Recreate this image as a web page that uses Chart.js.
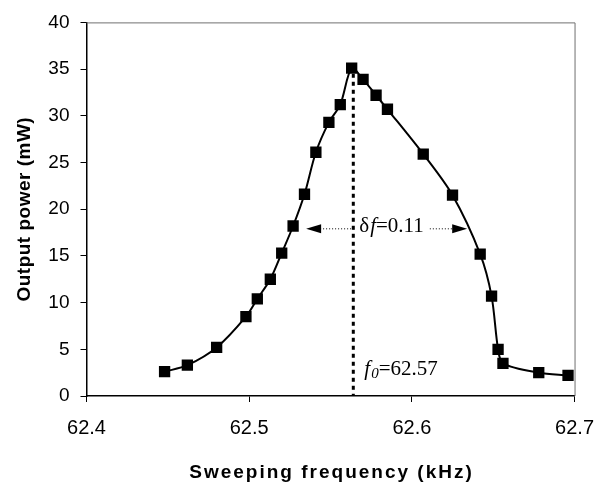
<!DOCTYPE html>
<html>
<head>
<meta charset="utf-8">
<script src="https://cdn.jsdelivr.net/npm/chart.js@4.4.1/dist/chart.umd.min.js"></script>
<style>
  html, body { margin: 0; padding: 0; background: #fff; }
  #chart { display: block; }
</style>
</head>
<body>
<canvas id="chart" width="608" height="487"></canvas>
<script>
// data
const freqKHz = [62.448, 62.462, 62.480, 62.498, 62.505, 62.513, 62.520, 62.527, 62.534, 62.541, 62.549, 62.556,
                 62.563, 62.570, 62.578, 62.585, 62.607, 62.625, 62.642, 62.649, 62.653, 62.656, 62.678, 62.696];
const powerMW = [2.6, 3.3, 5.2, 8.5, 10.4, 12.5, 15.3, 18.2, 21.6, 26.1, 29.3, 31.2,
                 35.1, 33.9, 32.2, 30.7, 25.9, 21.5, 15.2, 10.7, 5.0, 3.5, 2.5, 2.2];
const xTicks = [62.4, 62.5, 62.6, 62.7];
const yTicks = [0, 5, 10, 15, 20, 25, 30, 35, 40];

// annotation values
const f0 = 62.564;
const f0Label = '62.57';
const fwhmY = 17.9;
const fwhmLeft = 62.535;
const fwhmRight = 62.634;
const fwhmLabel = '0.11';

const xTitle = 'Sweeping frequency (kHz)';
const yTitle = 'Output power (mW)';

const points = freqKHz.map((f, i) => ({ x: f, y: powerMW[i] }));

function arrowHead(ctx, tipX, y, dir) {
    ctx.beginPath();
    ctx.moveTo(tipX, y);
    ctx.lineTo(tipX - dir * 15, y - 4.5);
    ctx.lineTo(tipX - dir * 15, y + 4.5);
    ctx.closePath();
    ctx.fill();
}

const annotations = {
    id: 'annotations',
    beforeDatasetsDraw(chart) {
        const ctx = chart.ctx;
        const xs = chart.scales.x, ys = chart.scales.y;
        const x0 = xs.getPixelForValue(f0);

        ctx.save();
        // f0 dotted line
        ctx.strokeStyle = '#000';
        ctx.lineWidth = 3;
        ctx.setLineDash([4, 4]);
        ctx.beginPath();
        ctx.moveTo(x0, ys.getPixelForValue(34.5));
        ctx.lineTo(x0, ys.getPixelForValue(0));
        ctx.stroke();

        // delta f label and arrows
        const ay = ys.getPixelForValue(fwhmY);
        const lx = xs.getPixelForValue(fwhmLeft);
        const rx = xs.getPixelForValue(fwhmRight);
        ctx.font = '21px "Liberation Serif", "Times New Roman", serif';
        const wDelta = ctx.measureText('\u03b4').width;
        ctx.font = 'italic 21px "Liberation Serif", "Times New Roman", serif';
        const wF = ctx.measureText('f').width;
        ctx.font = '21px "Liberation Serif", "Times New Roman", serif';
        const wRest = ctx.measureText('=' + fwhmLabel).width;
        const tx = x0 + 6;
        const ty = ay + 3;
        ctx.fillStyle = '#000';
        ctx.textBaseline = 'alphabetic';
        ctx.textAlign = 'left';
        ctx.fillText('\u03b4', tx, ty);
        ctx.font = 'italic 21px "Liberation Serif", "Times New Roman", serif';
        ctx.fillText('f', tx + wDelta + 1, ty);
        ctx.font = '21px "Liberation Serif", "Times New Roman", serif';
        ctx.fillText('=' + fwhmLabel, tx + wDelta + wF + 1, ty);
        const textEnd = tx + wDelta + wF + 1 + wRest;

        ctx.lineWidth = 1;
        ctx.setLineDash([1, 2]);
        ctx.beginPath();
        ctx.moveTo(lx + 14, ay);
        ctx.lineTo(x0 + 2, ay);
        ctx.moveTo(textEnd + 6, ay);
        ctx.lineTo(rx - 14, ay);
        ctx.stroke();
        ctx.setLineDash([]);
        arrowHead(ctx, lx, ay, -1);
        arrowHead(ctx, rx, ay, 1);

        // f0 label
        const bx = x0 + 11;
        const by = ys.getPixelForValue(2.2);
        ctx.font = 'italic 21px "Liberation Serif", "Times New Roman", serif';
        ctx.fillText('f', bx, by);
        const wf = ctx.measureText('f').width;
        ctx.font = 'italic 15px "Liberation Serif", "Times New Roman", serif';
        ctx.fillText('0', bx + wf + 1, by + 3);
        const w0 = ctx.measureText('0').width;
        ctx.font = '21px "Liberation Serif", "Times New Roman", serif';
        ctx.fillText('=' + f0Label, bx + wf + w0 + 1, by);
        ctx.restore();
    },
    afterDraw(chart) {
        const ctx = chart.ctx;
        const a = chart.chartArea;
        ctx.save();
        // top and right frame
        ctx.strokeStyle = '#707070';
        ctx.lineWidth = 1;
        ctx.beginPath();
        ctx.moveTo(a.left, a.top + 0.5);
        ctx.lineTo(a.right + 0.5, a.top + 0.5);
        ctx.lineTo(a.right + 0.5, a.bottom);
        ctx.stroke();

        // axis titles
        ctx.fillStyle = '#000';
        ctx.font = 'bold 19px "Liberation Sans", Arial, sans-serif';
        ctx.letterSpacing = '2px';
        ctx.textAlign = 'center';
        ctx.textBaseline = 'alphabetic';
        ctx.fillText(xTitle, (a.left + a.right) / 2 + 1, 478);
        ctx.translate(30, (a.top + a.bottom) / 2);
        ctx.rotate(-Math.PI / 2);
        ctx.letterSpacing = '0.5px';
        ctx.fillText(yTitle, 0, 0);
        ctx.restore();
    }
};

const ctx = document.getElementById('chart');
new Chart(ctx, {
    type: 'scatter',
    data: {
        datasets: [{
            data: points,
            showLine: true,
            borderColor: '#000',
            borderWidth: 2,
            tension: 0.3,
            pointStyle: 'rect',
            pointRadius: 8,
            pointBackgroundColor: '#000',
            pointBorderColor: '#000',
            pointBorderWidth: 0
        }]
    },
    options: {
        responsive: false,
        animation: false,
        layout: { padding: { top: 18, right: 23.5, left: 0, bottom: 0 } },
        plugins: {
            legend: { display: false },
            tooltip: { enabled: false }
        },
        scales: {
            x: {
                type: 'linear',
                min: xTicks[0],
                max: xTicks[xTicks.length - 1],
                afterBuildTicks: scale => { scale.ticks = xTicks.map(v => ({ value: v })); },
                afterFit: scale => { scale.height = 91; },
                grid: { drawOnChartArea: false, drawTicks: true, tickLength: 6, color: '#000', tickColor: '#000' },
                border: { display: true, color: '#000', width: 1.5 },
                ticks: {
                    color: '#000',
                    padding: 14,
                    font: { family: '"Liberation Sans", Arial, sans-serif', size: 20 },
                    callback: v => v.toFixed(1)
                }
            },
            y: {
                min: yTicks[0],
                max: yTicks[yTicks.length - 1],
                afterBuildTicks: scale => { scale.ticks = yTicks.map(v => ({ value: v })); },
                afterFit: scale => { scale.width = 86.5; },
                grid: { drawOnChartArea: false, drawTicks: true, tickLength: 6, color: '#000', tickColor: '#000' },
                border: { display: true, color: '#000', width: 1.5 },
                ticks: {
                    color: '#000',
                    padding: 11,
                    font: { family: '"Liberation Sans", Arial, sans-serif', size: 19 },
                    callback: v => String(v)
                }
            }
        }
    },
    plugins: [annotations]
});
</script>
</body>
</html>
